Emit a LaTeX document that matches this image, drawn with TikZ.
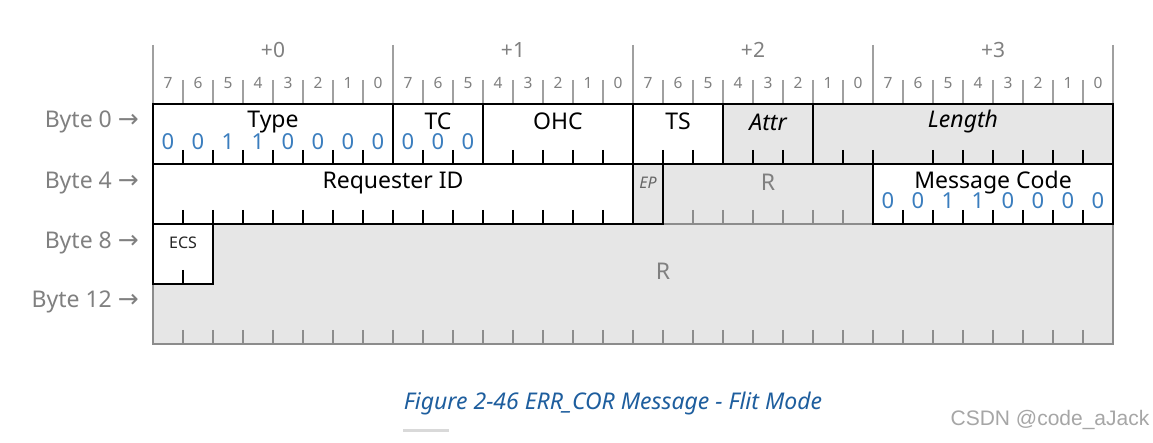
\documentclass[tikz,border=0pt]{standalone}
\usepackage{fontspec}
\setmainfont{Noto Sans}
\newfontfamily\arrowfont{DejaVu Sans}
\newfontfamily\wmfont{Liberation Sans}
\definecolor{shadegray}{HTML}{E6E6E6}
\definecolor{hdr}{HTML}{A0A0A0}
\definecolor{lbl}{HTML}{808080}
\definecolor{bitblue}{HTML}{3A7DBE}
\definecolor{capblue}{HTML}{1E5E9E}
\definecolor{rgray}{HTML}{8C8C8C}
\begin{document}
\begin{tikzpicture}[x=1pt,y=-1pt,
  fname/.style={font=\fontsize{23}{23}\selectfont, text=black, inner sep=0},
  fital/.style={fname, font=\fontsize{23}{23}\selectfont\itshape},
  small/.style={font=\fontsize{16}{16}\selectfont, inner sep=0},
  bitval/.style={font=\fontsize{22}{22}\selectfont, text=bitblue, inner sep=0},
  bitnum/.style={font=\fontsize{15.5}{15.5}\selectfont, text=lbl, inner sep=0},
  bytehdr/.style={font=\fontsize{21}{21}\selectfont, text=lbl, inner sep=0},
  rowlbl/.style={font=\fontsize{23}{23}\selectfont, text=lbl, inner sep=0, anchor=east},
  arr/.style={},
  thick border/.style={draw=black, line width=2.6pt},
  gray border/.style={draw=rgray, line width=2pt},
  tickblack/.style={draw=black, line width=1.3pt},
  tickgray/.style={draw=rgray, line width=1.3pt},
  hdrline/.style={draw=hdr, line width=1.3pt}]
\newcommand\rarrow{{\arrowfont\fontsize{25}{25}\selectfont →}}
\useasboundingbox (0,0) rectangle (1153,443);
\fill[white] (0,0) rectangle (1153,443);

% shaded fields
\fill[shadegray] (723,104) rectangle (1113,164);
\fill[shadegray] (633,164) rectangle (873,224);
\fill[shadegray] (153,224) rectangle (1113,344);
\fill[white] (153,224) rectangle (213,284);

% header
\foreach \b in {0,8,16,24,32} \draw[hdrline] (153+30*\b,45) -- (153+30*\b,104);
\foreach \b in {1,...,7,9,10,...,15,17,18,...,23,25,26,...,31} \draw[hdrline] (153+30*\b,80) -- (153+30*\b,104);
\foreach \B in {0,1,2,3} {
  \node[bytehdr] (h\B) at (273+240*\B,50) {+\B};
  \foreach \i in {0,...,7} {
    \pgfmathtruncatemacro{\n}{7-\i}
    \node[bitnum] (n\B\i) at (168+240*\B+30*\i,83) {\n};
  }
}

% bottom ticks
\foreach \b in {1,...,7,9,10,12,13,14,15,17,18,20,21,23,24,26,27,...,31} \draw[tickblack] (153+30*\b,150) -- (153+30*\b,164);
\foreach \b in {1,...,15,25,26,...,31} \draw[tickblack] (153+30*\b,210) -- (153+30*\b,224);
\foreach \b in {18,...,23} \draw[tickgray] (153+30*\b,210) -- (153+30*\b,224);
\draw[tickblack] (183,270) -- (183,284);
\foreach \b in {1,...,31} \draw[tickgray] (153+30*\b,330) -- (153+30*\b,344);

% gray borders of reserved area
\draw[gray border] (663,224) -- (873,224);
\draw[gray border] (153,284) -- (153,344) -- (1113,344) -- (1113,224);

% black borders
\draw[thick border] (153,104) rectangle (1113,164);
\foreach \x in {393,483,633,723,813} \draw[thick border] (\x,104) -- (\x,164);
\draw[thick border] (153,164) rectangle (633,224);
\draw[thick border] (633,164) rectangle (663,224);
\draw[thick border] (873,164) rectangle (1113,224);
\draw[thick border] (153,224) rectangle (213,284);

% field names
\node[fname] (type) at (273,122) {Type};
\node[fname] (tc) at (438,121) {TC};
\node[fname] (ohc) at (558,121) {OHC};
\node[fname] (ts) at (678,121) {TS};
\node[fital] (attr) at (768,122) {Attr};
\node[fital] (len) at (963,122) {Length};
\node[fname] (rid) at (393,183) {Requester ID};
\node[small, font=\fontsize{16}{16}\selectfont\itshape, text=black!60] (ep) at (648,183) {EP};
\node[fname, text=lbl] (r1) at (768,182) {R};
\node[fname] (mc) at (993,183) {Message Code};
\node[small, text=black!85] (ecs) at (183,243) {ECS};
\node[fname, text=lbl] (r2) at (663,271) {R};

% values
\foreach \v [count=\i from 0] in {0,0,1,1,0,0,0,0} {
  \node[bitval] (tv\i) at (168+30*\i,142) {\v};
  \node[bitval] (mv\i) at (888+30*\i,201) {\v};
}
\foreach \i in {0,1,2} \node[bitval] (cv\i) at (408+30*\i,142) {0};

% row labels
\node[rowlbl] (b0) at (139,122) {Byte 0 \rarrow};
\node[rowlbl] (b4) at (139,183) {Byte 4 \rarrow};
\node[rowlbl] (b8) at (139,243) {Byte 8 \rarrow};
\node[rowlbl] (b12) at (139,302) {Byte 12 \rarrow};

% caption
\node[font=\fontsize{23}{23}\selectfont\itshape, text=capblue, inner sep=0] (cap) at (613,404) {Figure 2-46 ERR\_COR Message - Flit Mode};
\fill[black!15] (403,428.5) rectangle (449,431.5);

% watermark
\node[font=\wmfont\fontsize{21}{21}\selectfont, text=black!35, inner sep=0] (wm) at (1050,420) {CSDN @code\_aJack};
\end{tikzpicture}
\end{document}
